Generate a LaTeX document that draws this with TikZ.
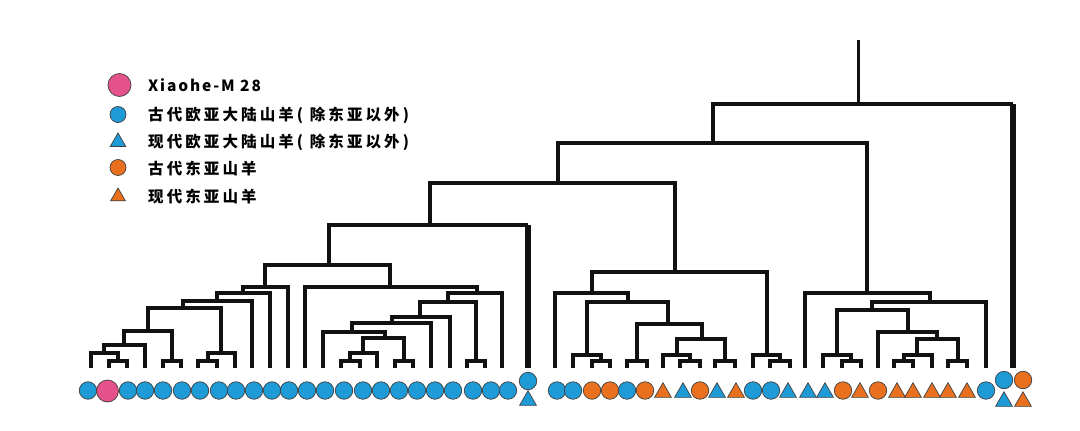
\documentclass[tikz,border=0pt]{standalone}
\usepackage{fontspec}
\newfontfamily\cjk[LetterSpace=20]{Noto Sans CJK SC}
\newfontfamily\latn[LetterSpace=12]{Noto Sans CJK SC}
\usetikzlibrary{shapes.geometric}
\definecolor{cblue}{HTML}{1E9AD6}
\definecolor{corange}{HTML}{E8701F}
\definecolor{cpink}{HTML}{E5528B}
\definecolor{cline}{HTML}{111111}
\newcommand\bif[3]{\draw[br] (#2) |- (#1) -| (#3);}
\tikzset{
  br/.style={line width=3.4pt, line join=miter, draw=cline},
  thk/.style={line width=5.5pt, draw=cline},
  mkbase/.style={draw=black!75, line width=0.7pt, inner sep=0pt},
  bc/.style={mkbase, circle, fill=cblue, minimum size=17.5pt},
  oc/.style={mkbase, circle, fill=corange, minimum size=17.5pt},
  pk/.style={mkbase, circle, fill=cpink, minimum size=22pt},
  bt/.style={mkbase, regular polygon, regular polygon sides=3, fill=cblue, minimum size=19.5pt},
  ot/.style={mkbase, regular polygon, regular polygon sides=3, fill=corange, minimum size=19.5pt},
  lg/.style={anchor=west, inner sep=0pt, font=\cjk\bfseries\fontsize{15.5}{18}\selectfont},
}
\begin{document}
\begin{tikzpicture}[x=1pt, y=-1pt]
\useasboundingbox[fill=white] (0,0) rectangle (1080,431);
% legend
\node[pk, minimum size=23pt] (k1) at (119.5,85) {};
\node[bc, minimum size=16pt] (k2) at (118,114.5) {};
\node[bt, minimum size=18pt] (k3) at (118,142) {};
\node[oc, minimum size=16pt] (k4) at (118,167.5) {};
\node[ot, minimum size=17pt] (k5) at (118,196.5) {};
\node[lg, font=\latn\bfseries\fontsize{15.5}{18}\selectfont] (l1) at (148,85) {Xiaohe-M 28};
\node[lg] (l2) at (148,115) {古代欧亚大陆山羊( 除东亚以外)};
\node[lg] (l3) at (148,142) {现代欧亚大陆山羊( 除东亚以外)};
\node[lg] (l4) at (148,169) {古代东亚山羊};
\node[lg] (l5) at (148,197) {现代东亚山羊};
% tips
\foreach \i/\x in {1/91,2/109,3/127,4/145,5/163,6/181,7/198,8/217,9/235,10/252,11/270,12/288,
  13/305,14/323,15/341,16/360,17/377,18/395,19/413,20/431,21/450,22/467,23/485,24/502,25/528,
  26/555,27/573,28/592,29/610,30/627,31/647,32/663,33/680,34/700,35/715,36/735,37/753,38/770,39/790,
  40/805,41/823,42/842,43/861,44/878,45/894,46/913,47/932,48/948,49/967,50/986,51/1013}
  {\coordinate (t\i) at (\x,368);}
% internal nodes
\coordinate (a1) at (118,361); \coordinate (a2) at (104,353); \coordinate (a3) at (124,345);
\coordinate (a4) at (172,361); \coordinate (a5) at (148,331); \coordinate (a6) at (208,361);
\coordinate (a7) at (221,353); \coordinate (a8) at (183,308); \coordinate (a9) at (217,301);
\coordinate (a10) at (243,293); \coordinate (a11) at (265,287);
\coordinate (b10) at (350,361); \coordinate (b8) at (363,353); \coordinate (b9) at (404,361);
\coordinate (b7) at (385,338); \coordinate (b6) at (352,332); \coordinate (b5) at (392,323);
\coordinate (b3) at (420,317); \coordinate (b4) at (476,361); \coordinate (b2) at (448,302);
\coordinate (b1) at (477,293); \coordinate (b0) at (390,287); \coordinate (AB) at (329,265);
\coordinate (n3) at (430,225);
\coordinate (d12) at (690,361); \coordinate (d10) at (677,355); \coordinate (d11) at (725,361);
\coordinate (d9) at (702,339); \coordinate (d8) at (637,361); \coordinate (d6) at (668,324);
\coordinate (d7) at (601,361); \coordinate (d5) at (587,355); \coordinate (d4) at (628,302);
\coordinate (d1) at (592,293); \coordinate (d3) at (780,361); \coordinate (d2) at (767,355);
\coordinate (D) at (675,272); \coordinate (n2) at (558,183);
\coordinate (e5) at (851,361); \coordinate (e3) at (837,355); \coordinate (e9) at (904,361);
\coordinate (e7) at (917,355); \coordinate (e8) at (958,361); \coordinate (e6) at (937,339);
\coordinate (e4) at (908,332); \coordinate (e2) at (872,310); \coordinate (e1) at (930,302);
\coordinate (E) at (867,293); \coordinate (n1) at (713,143); \coordinate (r) at (858,104);
\coordinate (top) at (858,40);
% brackets
\bif{a1}{t2}{t3} \bif{a2}{t1}{a1} \bif{a3}{a2}{t4} \bif{a4}{t5}{t6} \bif{a5}{a3}{a4}
\bif{a6}{t7}{t8} \bif{a7}{a6}{t9} \bif{a8}{a5}{a7} \bif{a9}{a8}{t10} \bif{a10}{a9}{t11}
\bif{a11}{a10}{t12}
\bif{b10}{t15}{t16} \bif{b8}{b10}{t17} \bif{b9}{t18}{t19} \bif{b7}{b8}{b9} \bif{b6}{t14}{b7}
\bif{b5}{b6}{t20} \bif{b3}{b5}{t21} \bif{b4}{t22}{t23} \bif{b2}{b3}{b4} \bif{b1}{b2}{t24}
\bif{b0}{t13}{b1} \bif{AB}{a11}{b0}
\draw[br] (AB) |- (n3) -- (n3 -| t25);
\draw[thk] (n3 -| t25) -- (t25);
\bif{d12}{t33}{t34} \bif{d10}{t32}{d12} \bif{d11}{t35}{t36} \bif{d9}{d10}{d11}
\bif{d8}{t30}{t31} \bif{d6}{d8}{d9} \bif{d7}{t28}{t29} \bif{d5}{t27}{d7} \bif{d4}{d5}{d6}
\bif{d1}{t26}{d4} \bif{d3}{t38}{t39} \bif{d2}{t37}{d3} \bif{D}{d1}{d2} \bif{n2}{n3}{D}
\bif{e5}{t42}{t43} \bif{e3}{t41}{e5} \bif{e9}{t45}{t46} \bif{e7}{e9}{t47} \bif{e8}{t48}{t49}
\bif{e6}{e7}{e8} \bif{e4}{t44}{e6} \bif{e2}{e3}{e4} \bif{e1}{e2}{t50} \bif{E}{t40}{e1}
\bif{n1}{n2}{E}
\draw[br] (n1) |- (r) -- (r -| t51);
\draw[thk] (r -| t51) -- (t51);
\draw[br, line width=3pt] (top) -- (r);
% markers
\foreach \i/\x/\s in {1/88/bc,3/128/bc,4/145/bc,5/163/bc,6/182/bc,7/200/bc,8/219/bc,9/236/bc,
  10/254/bc,11/272/bc,12/289/bc,13/307/bc,14/325/bc,15/344/bc,16/363/bc,17/381/bc,18/399/bc,
  19/417/bc,20/435/bc,21/453/bc,22/473/bc,23/491/bc,24/508/bc,
  26/557/bc,27/573/bc,28/592/oc,29/610/oc,30/627/bc,31/645/oc,34/700/oc,37/753/bc,38/771/bc,
  42/843/oc,44/878/oc,50/986/bc}
  {\node[\s] (m\i) at (\x,390.5) {};}
\foreach \i/\x/\s in {32/663/ot,33/683/bt,35/717/bt,36/736/ot,39/788/bt,40/808/bt,41/825/bt,
  43/860/ot,45/897/ot,46/913/ot,47/932/ot,48/948/ot,49/967/ot}
  {\node[\s] (m\i) at (\x,392.5) {};}
\node[pk] (m2) at (107.5,391) {};
\node[bc] (m25a) at (528,381) {};
\node[bt] (m25b) at (528,400.5) {};
\node[bc] (m51a) at (1004,380) {};
\node[bt] (m51b) at (1004,401.5) {};
\node[oc] (m52a) at (1023,380) {};
\node[ot] (m52b) at (1023,401.5) {};
\end{tikzpicture}
\end{document}
